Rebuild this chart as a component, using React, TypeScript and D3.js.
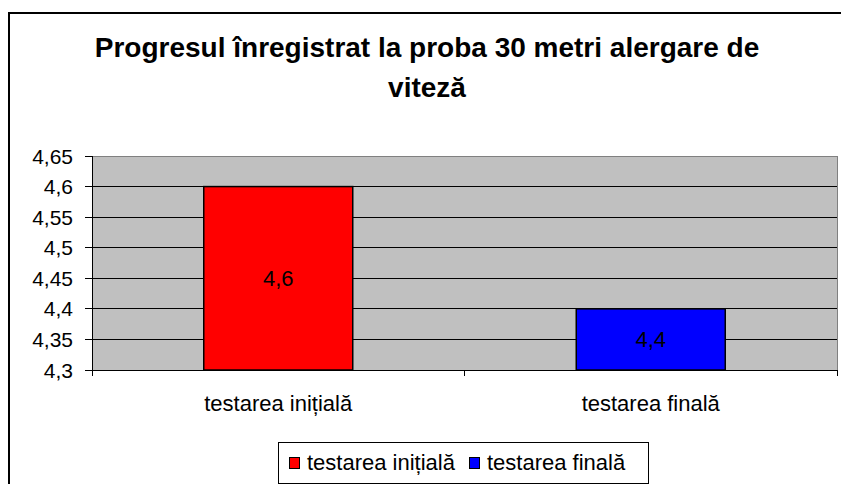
import React from 'react';
import * as d3 from 'd3';

// chart data
const categories = ['testarea inițială', 'testarea finală'];
const values = [4.6, 4.4];
const colors = ['#ff0000', '#0000ff'];
const yTicks = [4.3, 4.35, 4.4, 4.45, 4.5, 4.55, 4.6, 4.65];
const titleLines = ['Progresul înregistrat la proba 30 metri alergare de', 'viteză'];

const W = 841;
const H = 484;
const plot = { left: 92, right: 837, top: 156, bottom: 370 };
const FONT = '"Liberation Sans", Arial, sans-serif';

const locale = d3.formatLocale({ decimal: ',', thousands: '.', grouping: [3], currency: ['', ''] });
const fmt = locale.format('~g');

const App = () => {
  const y = d3.scaleLinear().domain([4.3, 4.65]).range([plot.bottom, plot.top]);
  const x = d3.scaleBand<string>().domain(categories).range([plot.left, plot.right]).paddingInner(0.6).paddingOuter(0.3);
  const xCat = d3.scaleBand<string>().domain(categories).range([plot.left, plot.right]);

  const boundaries = [plot.left, ...categories.map(c => (xCat(c) as number) + xCat.bandwidth())];

  return (
    <div style={{ position: 'fixed', left: 0, top: 0, width: W, height: H, background: '#fff' }}>
      <svg width={W} height={H} style={{ display: 'block' }} fontFamily={FONT}>
        <rect x={0} y={0} width={W} height={H} fill="#fff" />
        {/* outer frame */}
        <rect x={9} y={13} width={W + 20} height={H + 20} fill="none" stroke="#000" strokeWidth={2} />

        {titleLines.map((t, i) => (
          <text key={i} x={427} y={57 + i * 40} textAnchor="middle" fontSize={28} fontWeight="bold" fill="#000">
            {t}
          </text>
        ))}

        {/* plot area */}
        <rect x={plot.left} y={plot.top} width={plot.right - plot.left} height={plot.bottom - plot.top} fill="#c0c0c0" stroke="#808080" strokeWidth={1} shapeRendering="crispEdges" />

        {yTicks.map(t => (
          <g key={t}>
            {t > 4.3 && t < 4.65 && (
              <line x1={plot.left} x2={plot.right} y1={y(t)} y2={y(t)} stroke="#000" strokeWidth={1} shapeRendering="crispEdges" />
            )}
            <line x1={plot.left - 7} x2={plot.left} y1={y(t)} y2={y(t)} stroke="#000" shapeRendering="crispEdges" />
            <text x={73} y={y(t)} dy="0.36em" textAnchor="end" fontSize={21} fill="#000">
              {fmt(t)}
            </text>
          </g>
        ))}

        {/* bars */}
        {categories.map((c, i) => (
          <g key={c}>
            <rect
              x={x(c)}
              y={y(values[i])}
              width={x.bandwidth()}
              height={y(4.3) - y(values[i])}
              fill={colors[i]}
              stroke="#000"
              strokeWidth={1.5}
            />
            <text
              x={(x(c) as number) + x.bandwidth() / 2}
              y={(y(values[i]) + y(4.3)) / 2}
              dy="0.36em"
              textAnchor="middle"
              fontSize={22}
              fill="#000"
            >
              {fmt(values[i])}
            </text>
          </g>
        ))}

        {/* axes */}
        <line x1={plot.left} x2={plot.left} y1={plot.top} y2={plot.bottom + 6} stroke="#000" shapeRendering="crispEdges" />
        <line x1={plot.left} x2={plot.right} y1={plot.bottom} y2={plot.bottom} stroke="#000" shapeRendering="crispEdges" />
        {boundaries.map((b, i) => (
          <line key={i} x1={b} x2={b} y1={plot.bottom} y2={plot.bottom + 6} stroke="#000" shapeRendering="crispEdges" />
        ))}
        {categories.map(c => (
          <text key={c} x={(xCat(c) as number) + xCat.bandwidth() / 2} y={411} textAnchor="middle" fontSize={22} fill="#000">
            {c}
          </text>
        ))}

        {/* legend */}
        <rect x={278.5} y={442.5} width={370} height={41} fill="#fff" stroke="#000" strokeWidth={1} />
        {categories.map((c, i) => {
          const lx = i === 0 ? 289 : 469;
          return (
            <g key={c}>
              <rect x={lx + 0.5} y={457.5} width={10} height={11} fill={colors[i]} stroke="#000" strokeWidth={1} />
              <text x={lx + 18} y={470} fontSize={22} fill="#000">
                {c}
              </text>
            </g>
          );
        })}
      </svg>
    </div>
  );
};

export default App;
